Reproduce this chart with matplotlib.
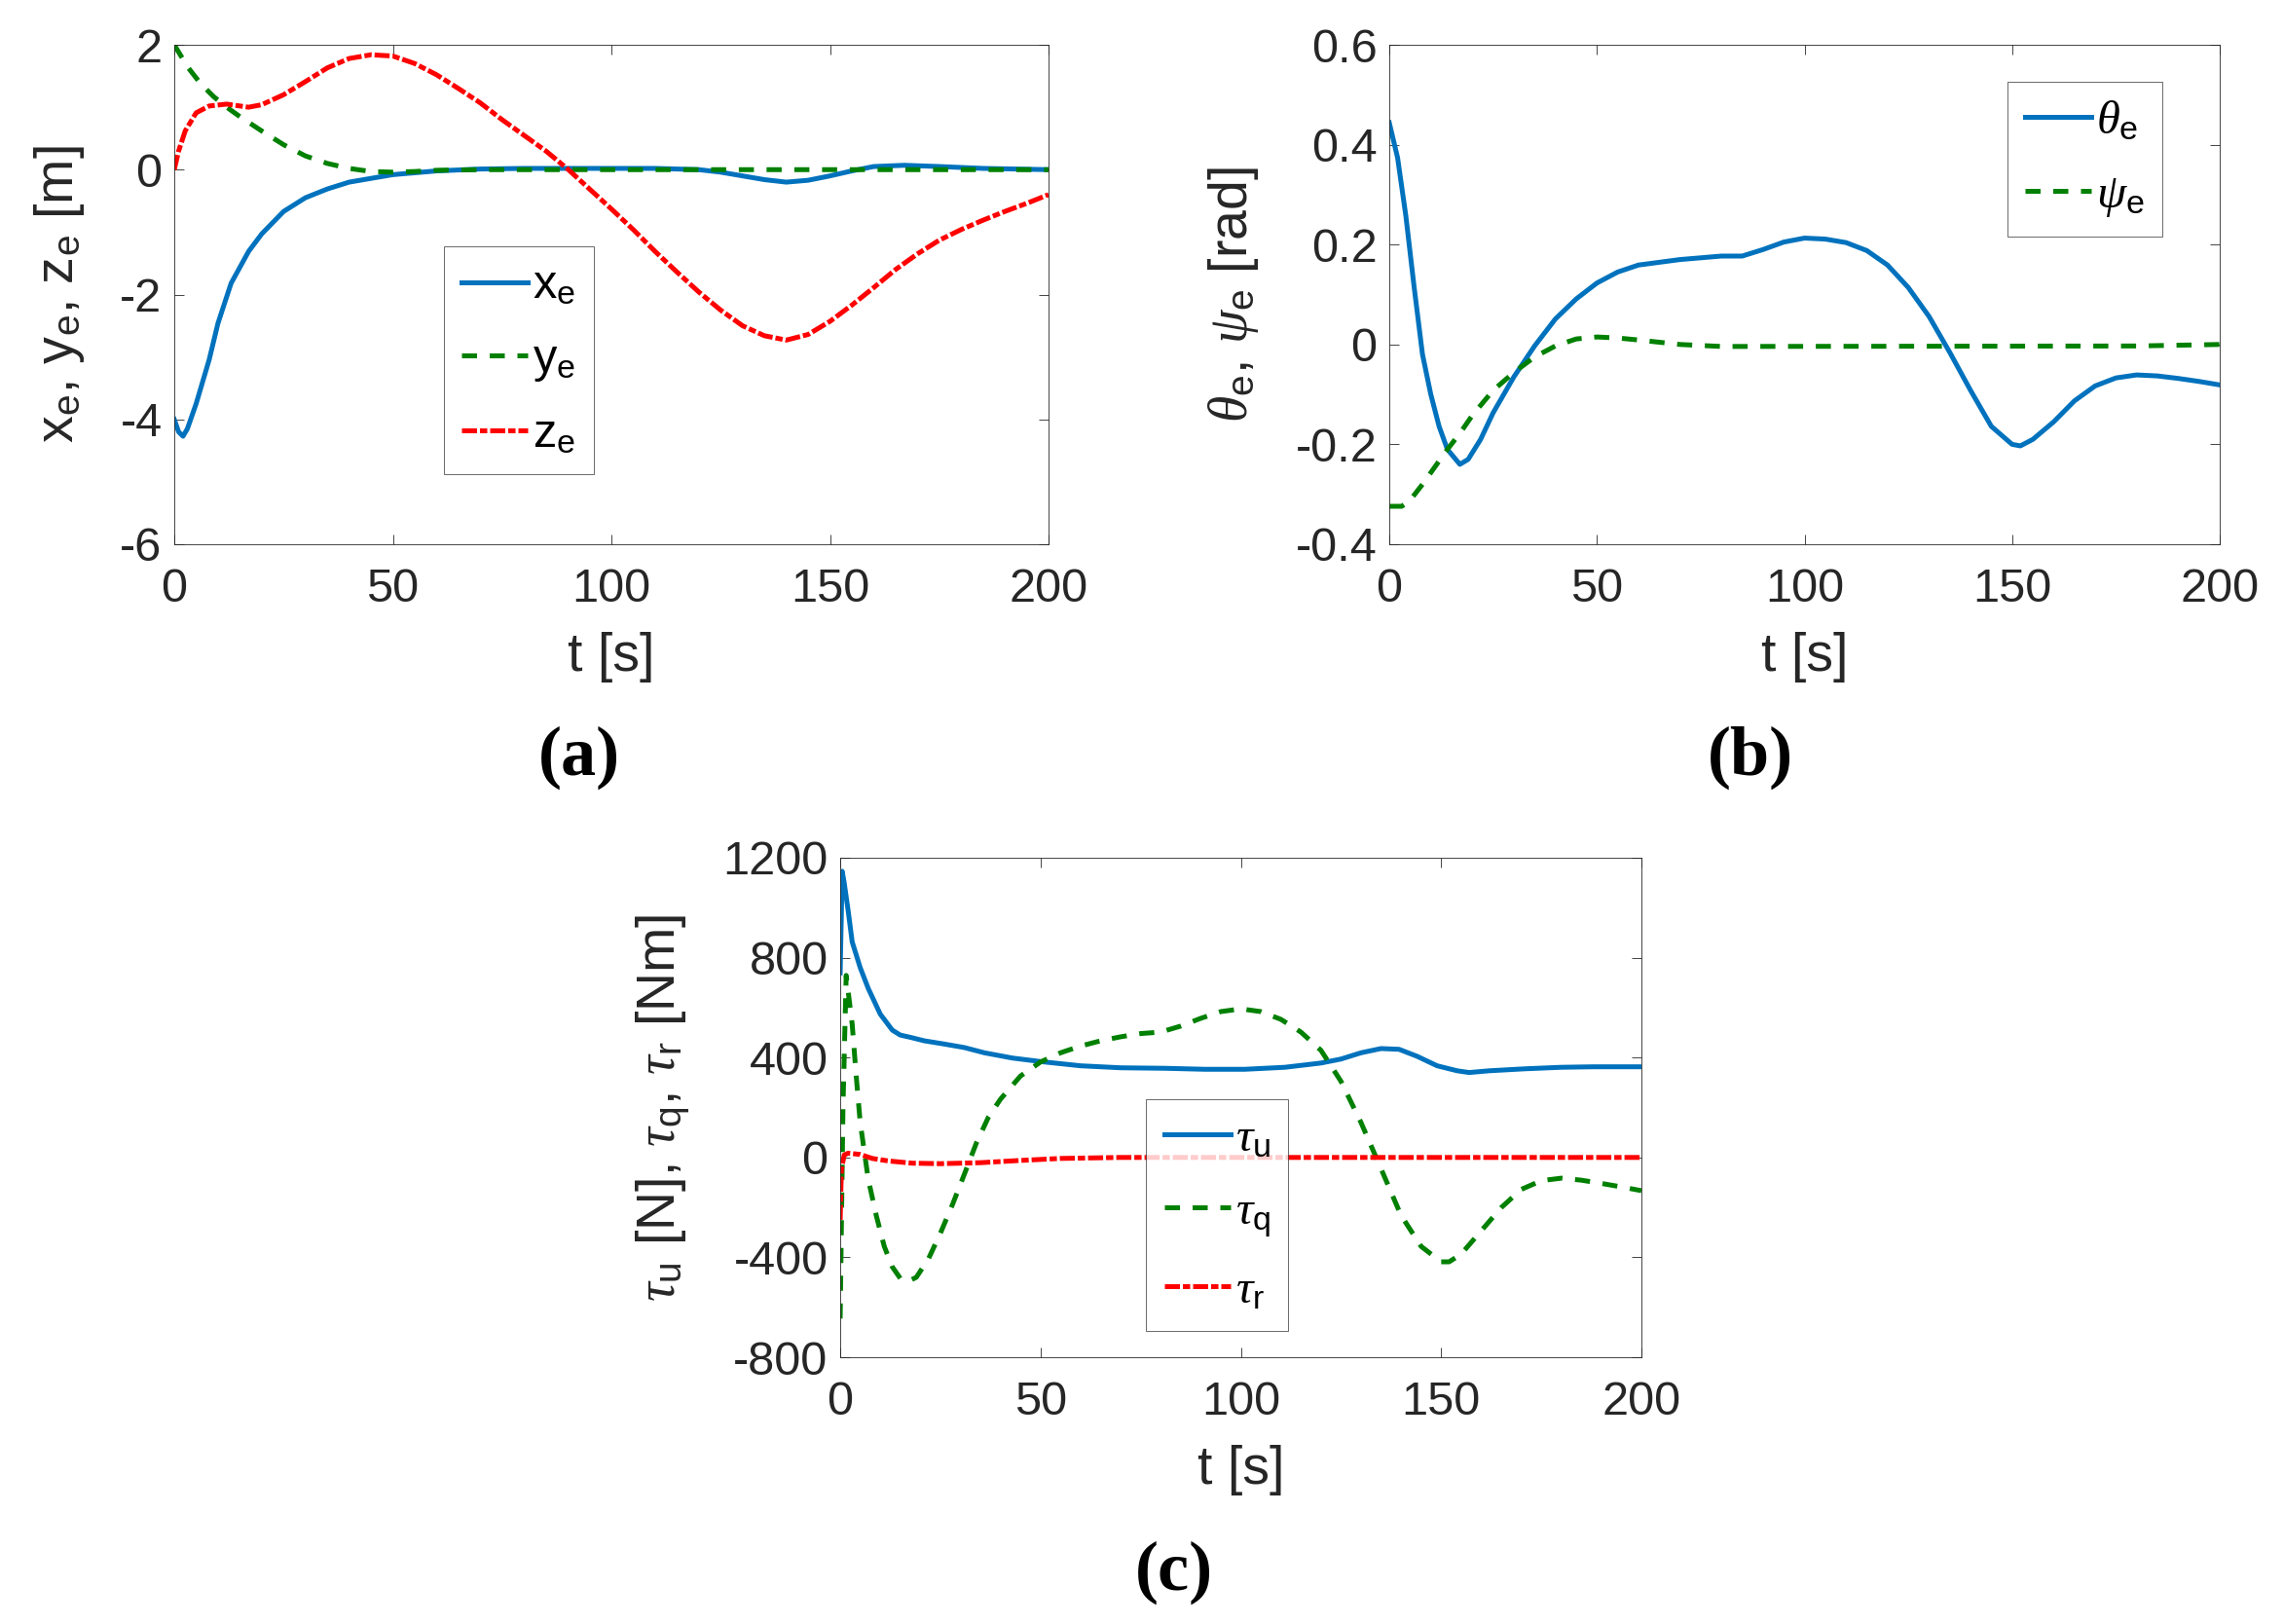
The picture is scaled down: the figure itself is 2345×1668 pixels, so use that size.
import matplotlib
matplotlib.use('Agg')
import matplotlib.pyplot as plt

# ---- data ----
# (a) position errors
t_xe = [0, 1, 2, 3, 5, 8, 10, 13, 17, 20, 25, 30, 35, 40, 50, 60, 70, 80, 90, 100,
        110, 120, 125, 130, 135, 140, 145, 150, 155, 160, 167, 175, 185, 200]
x_e = [-4.0, -4.2, -4.27, -4.15, -3.75, -3.04, -2.46, -1.82, -1.31, -1.03, -0.67, -0.45,
       -0.31, -0.2, -0.08, -0.02, 0.01, 0.02, 0.02, 0.02, 0.02, 0.0, -0.04, -0.1, -0.16,
       -0.2, -0.17, -0.1, -0.02, 0.05, 0.07, 0.05, 0.02, 0.0]
t_ye = [0, 3, 6, 9, 12, 15, 20, 25, 30, 35, 40, 45, 50, 55, 60, 70, 200]
y_e = [2.0, 1.65, 1.38, 1.17, 1.0, 0.85, 0.62, 0.4, 0.22, 0.1, 0.02, -0.03, -0.04, -0.03,
       -0.01, 0.0, 0.0]
t_ze = [0, 1, 2.5, 5, 8, 12, 17, 20, 25, 30, 35, 40, 45, 50, 55, 60, 65, 70, 75, 80, 85,
        90, 95, 100, 105, 110, 115, 120, 125, 130, 135, 140, 145, 150, 155, 160, 165, 170,
        175, 180, 185, 190, 195, 200]
z_e = [0, 0.3, 0.62, 0.91, 1.02, 1.05, 1.0, 1.04, 1.2, 1.41, 1.63, 1.78, 1.84, 1.82, 1.7,
       1.52, 1.3, 1.07, 0.8, 0.55, 0.3, 0.01, -0.31, -0.63, -0.96, -1.31, -1.64, -1.96,
       -2.25, -2.5, -2.66, -2.73, -2.64, -2.43, -2.17, -1.89, -1.6, -1.35, -1.13, -0.96,
       -0.81, -0.67, -0.54, -0.4]

# (b) angle errors
t_th = [0, 2, 4, 6, 8, 10, 12, 14, 17, 19, 22, 25, 30, 35, 40, 45, 50, 55, 60, 70, 80, 85,
        90, 95, 100, 105, 110, 115, 120, 125, 130, 135, 140, 145, 150, 152, 155, 160, 165,
        170, 175, 180, 185, 190, 195, 200]
theta_e = [0.444, 0.374, 0.257, 0.114, -0.02, -0.10, -0.164, -0.21, -0.24, -0.23, -0.19,
           -0.137, -0.065, -0.003, 0.051, 0.091, 0.123, 0.145, 0.159, 0.17, 0.177, 0.177,
           0.19, 0.205, 0.213, 0.211, 0.204, 0.188, 0.159, 0.114, 0.056, -0.016, -0.092,
           -0.164, -0.2, -0.203, -0.19, -0.155, -0.113, -0.083, -0.067, -0.061, -0.063,
           -0.068, -0.074, -0.081]
t_psi = [0, 3, 5, 8, 11, 14, 17, 20, 25, 30, 35, 40, 45, 50, 55, 60, 70, 80, 180, 200]
psi_e = [-0.324, -0.324, -0.312, -0.28, -0.245, -0.21, -0.178, -0.142, -0.092, -0.056,
         -0.025, -0.003, 0.011, 0.015, 0.013, 0.009, 0.0, -0.004, -0.003, 0.0]

# (c) control inputs
t_u = [0, 0.5, 1, 2, 3, 5, 7, 10, 13, 15, 17.5, 21, 26, 31, 36, 43, 50, 60, 70, 81, 91,
       101, 111, 120, 125, 130, 135, 139.5, 144, 149, 154, 157, 162, 171, 180, 188, 200]
tau_u = [739, 1146, 1100, 987, 863, 760, 677, 574, 510, 490, 481, 467, 454, 440, 419, 398,
         384, 367, 359, 357, 353, 353, 361, 378, 394, 419, 436, 433, 405, 367, 347, 340,
         347, 355, 361, 363, 363]
t_q = [0, 0.7, 1.5, 3, 4, 5, 7, 9, 11, 13, 15, 17, 19, 22, 25, 28, 31, 34, 37, 40, 45, 50,
       55, 60, 65, 70, 75, 80, 85, 90, 95, 100, 105, 110, 115, 120, 125, 130, 135, 140, 145,
       150, 152, 155, 160, 165, 170, 175, 180, 185, 190, 195, 200]
tau_q = [-645, 200, 729, 533, 326, 140, -87, -232, -356, -438, -484, -496, -480, -407, -304,
         -190, -67, 58, 161, 233, 326, 382, 419, 446, 467, 483, 496, 502, 526, 557, 584, 595,
         584, 553, 502, 429, 305, 140, -45, -232, -356, -418, -418, -387, -294, -201, -128,
         -93, -83, -91, -104, -118, -133]
t_r = [0, 0.3, 1, 2, 5, 8, 12, 18, 25, 35, 45, 55, 70, 200]
tau_r = [-250, -50, 10, 17, 12, -4, -14, -23, -25, -21, -12, -4, 0, 0]

# ---- style ----
plt.rcParams['font.family'] = ['Liberation Sans', 'DejaVu Sans']
plt.rcParams['mathtext.fontset'] = 'custom'
plt.rcParams['mathtext.rm'] = 'Liberation Sans'
plt.rcParams['mathtext.it'] = 'Liberation Serif:italic'
plt.rcParams['axes.unicode_minus'] = False

BLUE = '#0072BD'
GREEN = '#008000'
RED = '#FF0000'
GREY = '#262626'
LW = 3.6
DASH = (3.1, 2.6)
DASHDOT = (3.1, 0.6, 1.5, 0.6)
TICK_FS = 35
LABEL_FS = 40

W, H = 2345, 1668
fig = plt.figure(figsize=(W / 100, H / 100), dpi=100)


def px_axes(left, top, right, bottom):
    return fig.add_axes([left / W, 1 - bottom / H, (right - left) / W, (bottom - top) / H])


def style(ax, xlim, ylim, yticks):
    ax.set_xlim(*xlim)
    ax.set_ylim(*ylim)
    ax.set_xticks([0, 50, 100, 150, 200])
    ax.set_yticks(yticks)
    ax.tick_params(direction='in', top=True, right=True, length=7, width=0.6,
                   labelsize=TICK_FS, colors=GREY)
    ax.tick_params(axis='x', pad=17)
    ax.tick_params(axis='y', pad=9)
    for s in ax.spines.values():
        s.set_linewidth(0.6)
        s.set_color(GREY)
    ax.set_xlabel('t [s]', fontsize=LABEL_FS, color=GREY)
    ax.xaxis.set_label_coords(0.5, -0.175)


def legend(ax, anchor):
    lg = ax.legend(loc='upper left', bbox_to_anchor=anchor, borderaxespad=0,
                   fontsize=TICK_FS, frameon=True, fancybox=False, handlelength=1.4,
                   handletextpad=0.1, labelspacing=0.62, borderpad=0.38)
    lg.get_frame().set_edgecolor(GREY)
    lg.get_frame().set_linewidth(0.6)


# (a)
ax = px_axes(179, 46, 1077, 559)
ax.plot(t_xe, x_e, color=BLUE, lw=LW, label=r'x$_\mathregular{e}$')
ax.plot(t_ye, y_e, color=GREEN, lw=LW, dashes=DASH, label=r'y$_\mathregular{e}$')
ax.plot(t_ze, z_e, color=RED, lw=LW, dashes=DASHDOT, label=r'z$_\mathregular{e}$')
style(ax, (0, 200), (-6, 2), [-6, -4, -2, 0, 2])
ax.set_ylabel(r'x$_\mathregular{e}$, y$_\mathregular{e}$, z$_\mathregular{e}$ [m]',
              fontsize=LABEL_FS, color=GREY)
ax.yaxis.set_label_coords(-0.10, 0.5)
legend(ax, (0.308, 0.596))

# (b)
ax = px_axes(1427, 46, 2280, 559)
ax.plot(t_th, theta_e, color=BLUE, lw=LW, label=r'$\theta_\mathregular{e}$')
ax.plot(t_psi, psi_e, color=GREEN, lw=LW, dashes=DASH, label=r'$\psi_\mathregular{e}$')
style(ax, (0, 200), (-0.4, 0.6), [-0.4, -0.2, 0, 0.2, 0.4, 0.6])
ax.set_yticklabels(['-0.4', '-0.2', '0', '0.2', '0.4', '0.6'])
ax.set_ylabel(r'$\theta_\mathregular{e}$, $\psi_\mathregular{e}$ [rad]',
              fontsize=LABEL_FS, color=GREY)
ax.yaxis.set_label_coords(-0.155, 0.5)
legend(ax, (0.744, 0.926))

# (c)
ax = px_axes(863, 881, 1686, 1394)
ax.plot(t_u, tau_u, color=BLUE, lw=LW, label=r'$\tau_\mathregular{u}$')
ax.plot(t_q, tau_q, color=GREEN, lw=LW, dashes=DASH, label=r'$\tau_\mathregular{q}$')
ax.plot(t_r, tau_r, color=RED, lw=LW, dashes=DASHDOT, label=r'$\tau_\mathregular{r}$')
style(ax, (0, 200), (-800, 1200), [-800, -400, 0, 400, 800, 1200])
ax.set_ylabel(r'$\tau_\mathregular{u}$ [N], $\tau_\mathregular{q}$, $\tau_\mathregular{r}$ [Nm]',
              fontsize=LABEL_FS, color=GREY)
ax.yaxis.set_label_coords(-0.185, 0.5)
legend(ax, (0.382, 0.517))

# captions
for label, cx, cy in [('(a)', 595, 778), ('(b)', 1798, 778), ('(c)', 1206, 1615)]:
    fig.text(cx / W, 1 - cy / H, label, ha='center', va='center', fontsize=52,
             fontweight='bold', family='Liberation Serif', color='black')

fig.savefig('out.png', dpi=100, facecolor='white')
